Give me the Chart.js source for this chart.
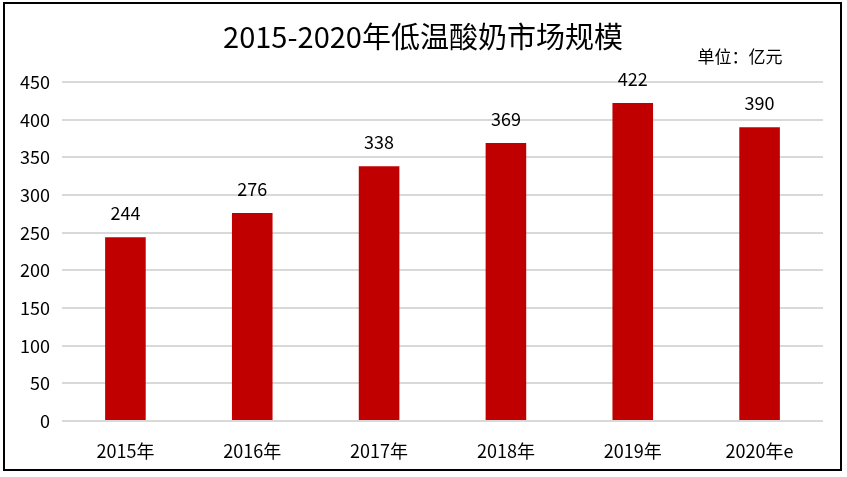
<!DOCTYPE html>
<html>
<head>
<meta charset="utf-8">
<script src="https://cdn.jsdelivr.net/npm/chart.js@4/dist/chart.umd.min.js"></script>
<style>
  html, body { margin: 0; padding: 0; background: #fff; }
  #wrap { position: relative; width: 847px; height: 477px; }
</style>
</head>
<body>
<div id="wrap"><canvas id="c" width="847" height="477"></canvas></div>
<script>
const years = ["2015年", "2016年", "2017年", "2018年", "2019年", "2020年e"];
const marketSize = [244, 276, 338, 369, 422, 390];
const titleText = "2015-2020年低温酸奶市场规模";
const unitText = "单位：亿元";

const FONT = "'Noto Sans CJK SC', 'Noto Sans', sans-serif";

// frame, title, unit and value labels
const decor = {
  id: "decor",
  beforeDraw(chart) {
    const ctx = chart.ctx;
    ctx.save();
    ctx.fillStyle = "#fff";
    ctx.fillRect(0, 0, chart.width, chart.height);
    ctx.strokeStyle = "#000";
    ctx.lineWidth = 2;
    ctx.strokeRect(4, 3, 837, 467);
    ctx.restore();
  },
  afterDatasetsDraw(chart) {
    const ctx = chart.ctx;
    ctx.save();
    ctx.fillStyle = "#000";
    ctx.textAlign = "center";
    ctx.textBaseline = "middle";
    ctx.font = "29px " + FONT;
    ctx.fillText(titleText, 423, 37);
    ctx.font = "17px " + FONT;
    ctx.fillText(unitText, 740, 57);
    ctx.font = "18px " + FONT;
    const meta = chart.getDatasetMeta(0);
    meta.data.forEach((bar, i) => {
      ctx.fillText(String(marketSize[i]), bar.x, bar.y - 24);
    });
    ctx.restore();
  }
};

new Chart(document.getElementById("c"), {
  type: "bar",
  data: {
    labels: years,
    datasets: [{
      data: marketSize,
      backgroundColor: "#C00000",
      barPercentage: 0.32,
      categoryPercentage: 1
    }]
  },
  options: {
    responsive: false,
    animation: false,
    layout: { padding: { top: 82, right: 24, bottom: 12, left: 0 } },
    plugins: { legend: { display: false }, title: { display: false }, tooltip: { enabled: false } },
    scales: {
      x: {
        grid: { display: false },
        border: { display: false },
        ticks: { color: "#000", font: { size: 18, family: FONT }, padding: 11 },
        afterFit(s) { s.height = 44; }
      },
      y: {
        min: 0, max: 450,
        ticks: { stepSize: 50, color: "#000", font: { size: 18, family: FONT }, padding: 12 },
        grid: { color: "#D9D9D9", lineWidth: 2, drawTicks: false },
        border: { display: false },
        afterFit(s) { s.width = 62; }
      }
    }
  },
  plugins: [decor]
});
</script>
</body>
</html>
